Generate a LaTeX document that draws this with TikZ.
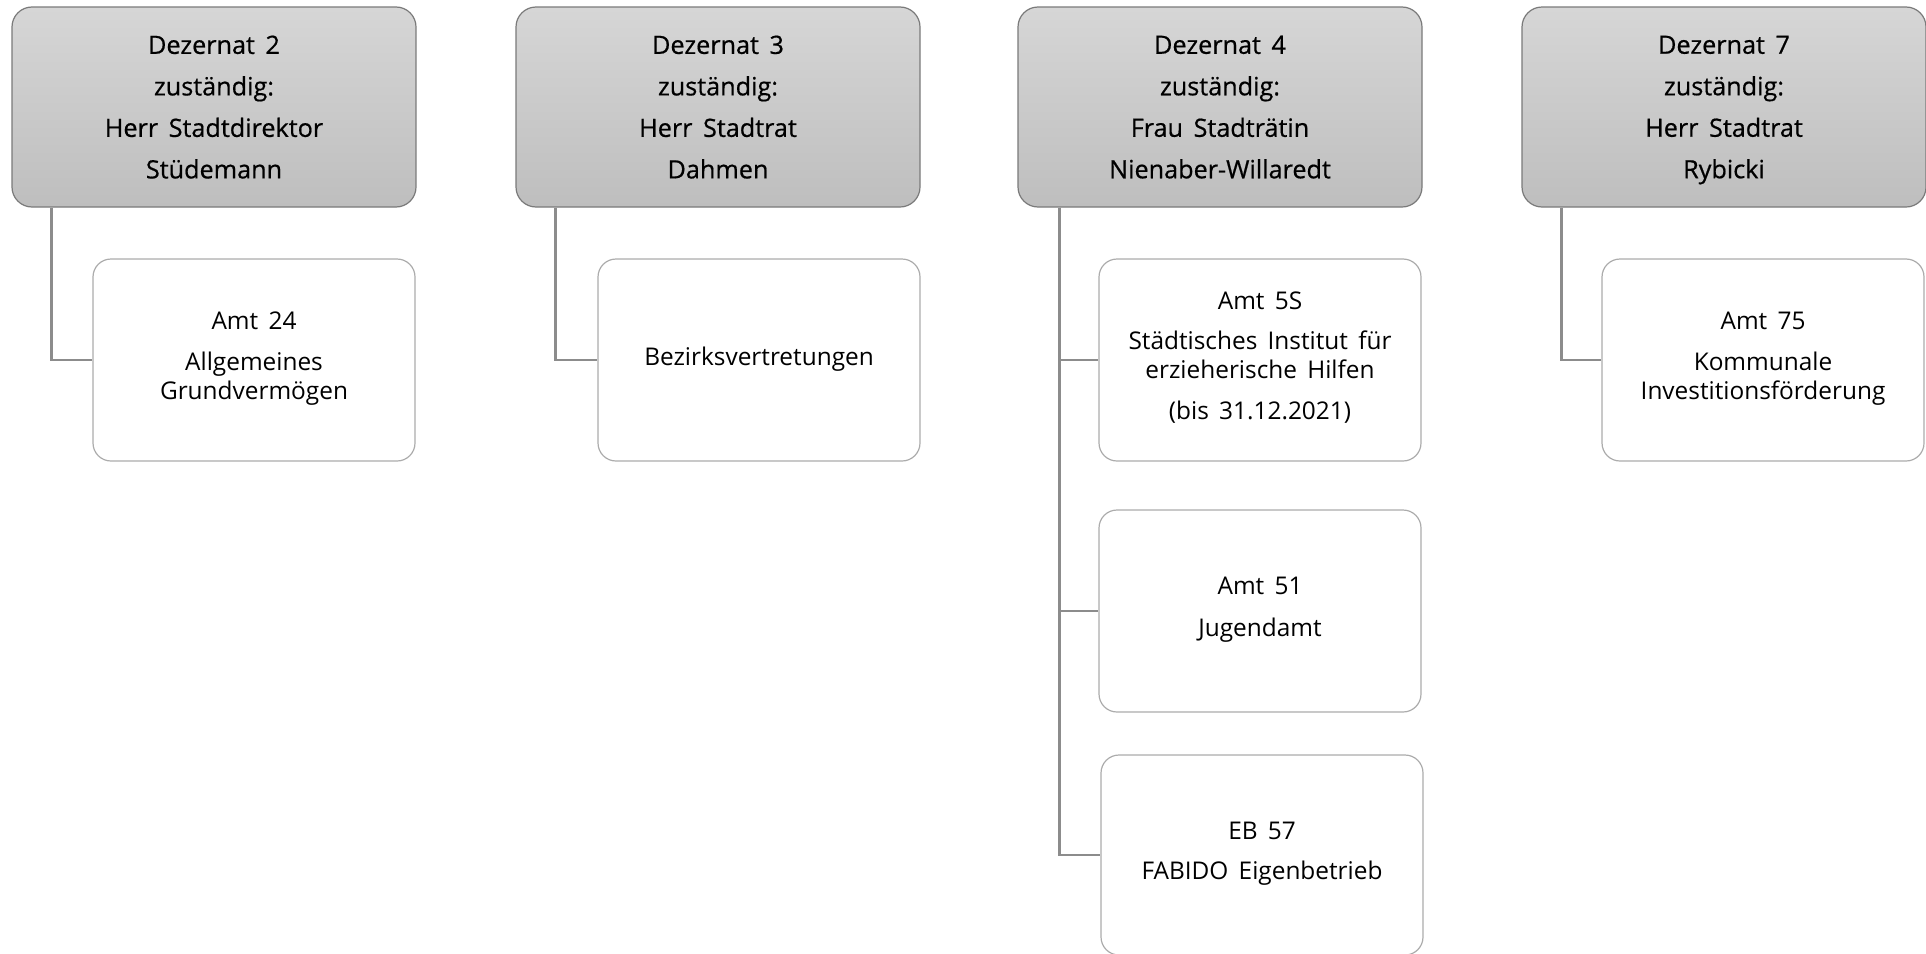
\documentclass[tikz,border=0pt]{standalone}
\usepackage{fontspec}
\setmainfont{Open Sans}
\newfontfamily\headfont[FakeBold=0.6]{Open Sans}
\usetikzlibrary{calc}
\newcommand\widesp{\spaceskip=0.42em plus 0.1em minus 0.1em\relax}
\newcommand\headtxt{\headfont\fontsize{12.6}{20.75}\selectfont\widesp}
\newcommand\childtxt{\fontsize{12.2}{14.5}\selectfont\widesp}
\definecolor{hdborder}{HTML}{7A7A7A}
\definecolor{hdtop}{HTML}{D6D6D6}
\definecolor{hdbot}{HTML}{BEBEBE}
\definecolor{chborder}{HTML}{ACACAC}
\definecolor{conn}{HTML}{8C8C8C}
\tikzset{
  head/.style={draw=hdborder, line width=0.6pt, rounded corners=10pt,
    top color=hdtop, bottom color=hdbot, minimum width=202pt, minimum height=100pt,
    align=center, inner sep=0pt, text depth=0pt, font=\headtxt},
  child/.style={draw=chborder, line width=0.6pt, rounded corners=9pt, fill=white,
    minimum width=161pt, minimum height=101pt, align=center, inner sep=0pt,
    font=\childtxt},
  link/.style={draw=conn, line width=1.4pt}
}
\begin{document}
\begin{tikzpicture}[x=0.5pt,y=-0.5pt]
\useasboundingbox (0,0) rectangle (1926,953);
% headers
\node[head] (d2) at (214,107) {Dezernat 2\\zuständig:\\Herr Stadtdirektor\\Stüdemann};
\node[head] (d3) at (718,107) {Dezernat 3\\zuständig:\\Herr Stadtrat\\Dahmen};
\node[head] (d4) at (1220,107) {Dezernat 4\\zuständig:\\Frau Stadträtin\\Nienaber-Willaredt};
\node[head] (d7) at (1724,107) {Dezernat 7\\zuständig:\\Herr Stadtrat\\Rybicki};
% children
\node[child] (a24) at (254,360) {Amt 24\\[6pt]Allgemeines\\Grundvermögen\strut};
\node[child] (bv) at (759,360) {Bezirksvertretungen\strut};
\node[child] (a5s) at (1260,360) {Amt 5S\\[5.5pt]Städtisches Institut für\\erzieherische Hilfen\\[6pt](bis 31.12.2021)\strut};
\node[child] (a51) at (1260,611) {Amt 51\\[6.5pt]Jugendamt\strut};
\node[child, minimum height=100pt] (eb57) at (1262,855) {EB 57\\[5.5pt]FABIDO Eigenbetrieb\strut};
\node[child] (a75) at (1763,360) {Amt 75\\[6pt]Kommunale\\Investitionsförderung\strut};
% connectors
\coordinate (c2) at ($(d2.south west)+(40,0)$);
\coordinate (c3) at ($(d3.south west)+(40,0)$);
\coordinate (c4) at ($(d4.south west)+(42,0)$);
\coordinate (c7) at ($(d7.south west)+(40,0)$);
\draw[link] (c2) |- (a24.west);
\draw[link] (c3) |- (bv.west);
\draw[link] (c4) |- (a5s.west);
\draw[link] (c4) |- (a51.west);
\draw[link] (c4) |- (eb57.west);
\draw[link] (c7) |- (a75.west);
\end{tikzpicture}
\end{document}
